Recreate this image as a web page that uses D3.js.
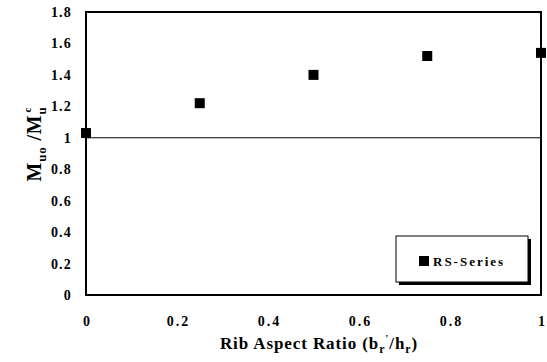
<!DOCTYPE html>
<html><head><meta charset="utf-8">
<script src="https://cdn.jsdelivr.net/npm/d3@7"></script>
<style>body{margin:0;background:#fff}svg{display:block}text{font-family:"Liberation Serif","Times New Roman",serif;font-weight:bold;fill:#000}</style>
</head><body>
<svg id="c" width="547" height="362"></svg>
<script>
const xVals = [0, 0.25, 0.5, 0.75, 1];
const yVals = [1.03, 1.22, 1.40, 1.52, 1.54];
const xTicks = [0, 0.2, 0.4, 0.6, 0.8, 1];
const yTicks = [0, 0.2, 0.4, 0.6, 0.8, 1, 1.2, 1.4, 1.6, 1.8];
const seriesName = "RS-Series";

const svg = d3.select("#c");
const L = 86, R = 541, T = 12, B = 295;
const x = d3.scaleLinear().domain([0, 1]).range([L, R]);
const y = d3.scaleLinear().domain([0, 1.8]).range([B, T]);

svg.append("rect").attr("x", L).attr("y", T).attr("width", R - L).attr("height", B - T)
  .attr("fill", "none").attr("stroke", "#000").attr("stroke-width", 2);
svg.append("line").attr("x1", x(0)).attr("x2", x(1)).attr("y1", y(1)).attr("y2", y(1))
  .attr("stroke", "#000").attr("stroke-width", 1);

const fmt = d => String(+d.toFixed(1));
const yAxis = d3.axisLeft(y).tickValues(yTicks).tickSize(0).tickPadding(14).tickFormat(fmt);
const gy = svg.append("g").attr("transform", `translate(${L},0)`).call(yAxis);
gy.select(".domain").remove();
gy.selectAll("text").style("font-size", "14px").style("font-family", "Liberation Serif")
  .style("font-weight", "bold").style("letter-spacing", "1.2px");

const xAxis = d3.axisBottom(x).tickValues(xTicks).tickSize(0).tickPadding(21).tickFormat(fmt);
const gx = svg.append("g").attr("transform", `translate(0,${B})`).call(xAxis);
gx.select(".domain").remove();
gx.selectAll("text").style("font-size", "14px").style("font-family", "Liberation Serif")
  .style("font-weight", "bold").style("letter-spacing", "2px").attr("dx", "1px");

const s = 10;
svg.append("g").selectAll("rect").data(xVals.map((v, i) => [v, yVals[i]])).join("rect")
  .attr("x", d => x(d[0]) - s / 2).attr("y", d => y(d[1]) - s / 2)
  .attr("width", s).attr("height", s).attr("fill", "#000");

// x title
const xt = svg.append("text").attr("x", 319).attr("y", 349).attr("text-anchor", "middle")
  .style("font-size", "17px").style("letter-spacing", "0.9px");
xt.append("tspan").text("Rib Aspect Ratio (b");
xt.append("tspan").attr("dy", 4).style("font-size", "12px").text("r");
xt.append("tspan").attr("dy", -11).style("font-size", "11px").text("'");
xt.append("tspan").attr("dy", 7).text("/h");
xt.append("tspan").attr("dy", 4).style("font-size", "12px").text("r");
xt.append("tspan").attr("dy", -4).text(")");

// y title
const yt = svg.append("text").attr("transform", "translate(41,144) rotate(-90)").attr("text-anchor", "middle")
  .style("font-size", "20px").style("letter-spacing", "0.8px");
yt.append("tspan").text("M");
yt.append("tspan").attr("dy", 5).style("font-size", "13px").text("uo");
yt.append("tspan").attr("dy", -5).text(" /M");
yt.append("tspan").attr("dy", 5).style("font-size", "13px").text("u");
yt.append("tspan").attr("dy", -15).attr("dx", -6).style("font-size", "11px").text("c");

// legend
const lg = svg.append("g");
lg.append("rect").attr("x", 399).attr("y", 239).attr("width", 132).attr("height", 46).attr("fill", "#000");
lg.append("rect").attr("x", 396).attr("y", 236).attr("width", 132).attr("height", 46)
  .attr("fill", "#fff").attr("stroke", "#000").attr("stroke-width", 1);
lg.append("rect").attr("x", 419).attr("y", 256).attr("width", 10).attr("height", 10).attr("fill", "#000");
lg.append("text").attr("x", 433).attr("y", 266).style("font-size", "13px").style("letter-spacing", "2px").text(seriesName);
</script>
</body></html>
